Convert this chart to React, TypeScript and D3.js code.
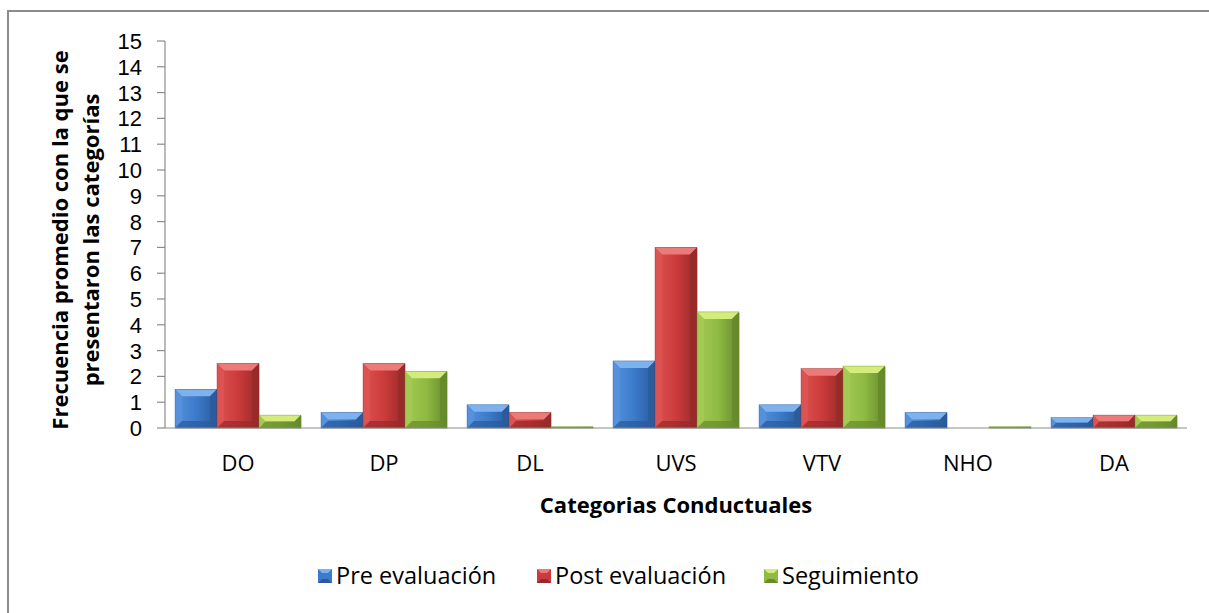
import React from "react";
import * as d3 from "d3";

const categories = ["DO", "DP", "DL", "UVS", "VTV", "NHO", "DA"];
const seriesNames = ["Pre evaluación", "Post evaluación", "Seguimiento"];
const preValues = [1.5, 0.6, 0.9, 2.6, 0.9, 0.6, 0.4];
const postValues = [2.5, 2.5, 0.6, 7.0, 2.3, 0, 0.5];
const seguimientoValues = [0.5, 2.2, 0.05, 4.5, 2.4, 0.05, 0.5];
const yTicks = d3.range(0, 16);

const palette = [
  { base: "#3c7bcc", light: "#7db2ee", dark: "#2a5a9a", side: "#5591dc" },
  { base: "#cc3b3b", light: "#ec7a78", dark: "#962a2a", side: "#dc5352" },
  { base: "#8fbb42", light: "#d3ec7c", dark: "#668a2c", side: "#a3ca55" },
];

const W = 1209;
const H = 613;
const FONT = "'Open Sans', sans-serif";
const TICK_FONT = "'Liberation Sans', Arial, sans-serif";

export default function App() {
  const left = 165;
  const right = 1187;
  const top = 41;
  const bottom = 428;

  const x0 = d3.scaleBand<string>().domain(categories).range([left, right]).paddingInner(0.137).paddingOuter(0.0685);
  const x1 = d3.scaleBand<number>().domain([0, 1, 2]).range([0, x0.bandwidth()]);
  const y = d3.scaleLinear().domain([0, 15]).range([bottom, top]);

  const series = [preValues, postValues, seguimientoValues];

  const bars: React.ReactNode[] = [];
  series.forEach((vals, si) => {
    vals.forEach((v, ci) => {
      if (v <= 0) return;
      const bx = (x0(categories[ci]) as number) + (x1(si) as number);
      const bw = x1.bandwidth();
      const by = y(v);
      const bh = bottom - by;
      const b = Math.min(7, bh / 2, bw / 2);
      const c = palette[si];
      bars.push(
        <g key={`${si}-${ci}`}>
          <rect x={bx + 1} y={by + 1} width={bw} height={bh} fill="#000" opacity={0.12} />
          <rect x={bx} y={by} width={bw} height={bh} fill={`url(#grad${si})`} />
          <polygon points={`${bx},${by} ${bx + bw},${by} ${bx + bw - b},${by + b} ${bx + b},${by + b}`} fill={c.light} />
          <polygon points={`${bx},${by} ${bx + b},${by + b} ${bx + b},${bottom - b} ${bx},${bottom}`} fill={c.side} />
          <polygon points={`${bx + bw},${by} ${bx + bw - b},${by + b} ${bx + bw - b},${bottom - b} ${bx + bw},${bottom}`} fill={c.dark} opacity={0.85} />
          <polygon points={`${bx},${bottom} ${bx + b},${bottom - b} ${bx + bw - b},${bottom - b} ${bx + bw},${bottom}`} fill={c.dark} opacity={0.7} />
          <rect x={bx} y={by} width={bw} height={bh} fill="none" stroke={c.dark} strokeWidth={0.6} opacity={0.6} />
        </g>
      );
    });
  });

  const legendItems = [
    { x: 318, label: seriesNames[0] },
    { x: 537, label: seriesNames[1] },
    { x: 764, label: seriesNames[2] },
  ];

  return (
    <svg width={W} height={H} style={{ position: "absolute", left: 0, top: 0, background: "#fff" }}>
      <defs>
        {palette.map((c, i) => (
          <linearGradient key={i} id={`grad${i}`} x1="0" y1="0" x2="1" y2="0">
            <stop offset="0" stopColor={c.side} />
            <stop offset="0.5" stopColor={c.base} />
            <stop offset="1" stopColor={c.dark} />
          </linearGradient>
        ))}
      </defs>
      <rect x={0} y={0} width={W} height={H} fill="#fff" />
      <rect x={8} y={11} width={1230} height={640} fill="none" stroke="#8c8c8c" strokeWidth={2} />

      {/* y axis */}
      <line x1={left} x2={left} y1={top} y2={bottom} stroke="#8c8c8c" strokeWidth={1.2} />
      {yTicks.map((t) => (
        <g key={t}>
          <line x1={left - 8} x2={left} y1={y(t)} y2={y(t)} stroke="#8c8c8c" strokeWidth={1.2} />
          <text x={142} y={y(t)} dy="0.36em" textAnchor="end" fontFamily={TICK_FONT} fontSize={22} fill="#000">
            {t}
          </text>
        </g>
      ))}

      {bars}

      {/* x axis */}
      <line x1={left} x2={right} y1={bottom} y2={bottom} stroke="#8c8c8c" strokeWidth={1.2} />
      {categories.map((c) => (
        <text key={c} x={(x0(c) as number) + x0.bandwidth() / 2} y={463} dy="0.36em" textAnchor="middle" fontFamily={FONT} fontSize={22} fill="#000">
          {c}
        </text>
      ))}

      <text x={676} y={505} dy="0.36em" textAnchor="middle" fontFamily={FONT} fontSize={22} fontWeight="bold" fill="#000">
        Categorias Conductuales
      </text>

      <g transform={`translate(60, 240) rotate(-90)`}>
        <text x={0} y={0} dy="0.36em" textAnchor="middle" fontFamily={FONT} fontSize={22} fontWeight="bold" fill="#000">
          Frecuencia promedio con la que se
        </text>
      </g>
      <g transform={`translate(91, 240) rotate(-90)`}>
        <text x={0} y={0} dy="0.36em" textAnchor="middle" fontFamily={FONT} fontSize={22} fontWeight="bold" fill="#000">
          presentaron las categorías
        </text>
      </g>

      {legendItems.map((it, i) => {
        const c = palette[i];
        const s = 14;
        const sx = it.x;
        const sy = 569;
        const b = 4;
        return (
          <g key={i}>
            <rect x={sx} y={sy} width={s} height={s} fill={c.base} />
            <polygon points={`${sx},${sy} ${sx + s},${sy} ${sx + s - b},${sy + b} ${sx + b},${sy + b}`} fill={c.light} />
            <polygon points={`${sx},${sy + s} ${sx + b},${sy + s - b} ${sx + s - b},${sy + s - b} ${sx + s},${sy + s}`} fill={c.dark} />
            <text x={sx + 18} y={576} dy="0.36em" fontFamily={FONT} fontSize={23.5} fill="#000">
              {it.label}
            </text>
          </g>
        );
      })}
    </svg>
  );
}
